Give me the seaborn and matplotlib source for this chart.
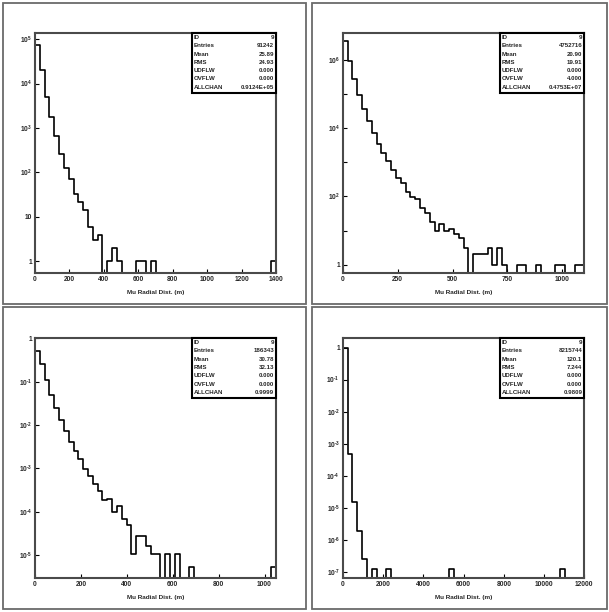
import numpy as np
import pandas as pd
import matplotlib
matplotlib.use("Agg")
import matplotlib.pyplot as plt
import seaborn as sns
from matplotlib.patches import Rectangle
from matplotlib.ticker import FixedLocator, MultipleLocator, FuncFormatter, NullFormatter

# ---------------- data (bin contents, 50 bins each) ----------------
p1_xmax = 1400
p1_counts = [72000, 19800, 5100, 1810, 664, 260, 124, 70, 32, 22,
             14, 6, 3, 4, 0, 1, 2, 1, 0, 0,
             0, 1, 1, 0, 1, 0, 0, 0, 0, 0,
             0, 0, 0, 0, 0, 0, 0, 0, 0, 0,
             0, 0, 0, 0, 0, 0, 0, 0, 0, 1]
p1_stats = ["9", "91242", "25.89", "24.93", "0.000", "0.000", "0.9124E+05"]

p2_xmax = 1100
p2_counts = [3.4e6, 9.1e5, 2.7e5, 9.1e4, 3.5e4, 1.6e4, 7200, 3500, 1900, 1070,
             590, 350, 240, 132, 97, 82, 45, 32, 18, 10,
             16, 10, 11, 8, 6, 3, 0, 2, 2, 2,
             3, 1, 3, 1, 0, 0, 1, 1, 0, 0,
             1, 0, 0, 0, 1, 1, 0, 0, 1, 1]
p2_stats = ["9", "4752716", "20.90", "19.91", "0.000", "4.000", "0.4753E+07"]

p3_xmax = 1050
p3_counts = [0.52, 0.26, 0.11, 0.049, 0.025, 0.013, 0.0072, 0.0040, 0.0025, 0.00165,
             9.8e-4, 6.8e-4, 4.4e-4, 3.0e-4, 1.9e-4, 2.0e-4, 1.0e-4, 1.35e-4, 6.9e-5, 4.8e-5,
             1.07e-5, 2.68e-5, 2.68e-5, 1.61e-5, 1.07e-5, 1.07e-5, 0, 1.07e-5, 0, 1.07e-5,
             0, 0, 5.37e-6, 0, 0, 0, 0, 0, 0, 0,
             0, 0, 0, 0, 0, 0, 0, 0, 0, 5.37e-6]
p3_stats = ["9", "186343", "30.78", "32.13", "0.000", "0.000", "0.9999"]

p4_xmax = 12000
p4_counts = [0.98, 4.8e-4, 1.55e-5, 1.9e-6, 2.43e-7, 0, 1.22e-7, 0, 0, 1.22e-7,
             0, 0, 0, 0, 0, 0, 0, 0, 0, 0,
             0, 0, 1.22e-7, 0, 0, 0, 0, 0, 0, 0,
             0, 0, 0, 0, 0, 0, 0, 0, 0, 0,
             0, 0, 0, 0, 0, 1.22e-7, 0, 0, 0, 0]
p4_stats = ["9", "8215744", "120.1", "7.244", "0.000", "0.000", "0.9809"]

stat_names = ["ID", "Entries", "Mean", "RMS", "UDFLW", "OVFLW", "ALLCHAN"]
xlabel = "Mu Radial Dist. (m)"

# ---------------- style ----------------
sns.set_style("white")
plt.rcParams["font.family"] = ["Liberation Sans", "DejaVu Sans"]
plt.rcParams["font.weight"] = "bold"
plt.rcParams["mathtext.fontset"] = "custom"
plt.rcParams["mathtext.rm"] = "Liberation Sans:bold"

W, H = 609, 612
fig = plt.figure(figsize=(W / 100, H / 100), dpi=100)
fig.patch.set_facecolor("white")


def px_rect(x0, y0, x1, y1):
    return [x0 / W, 1 - y1 / H, (x1 - x0) / W, (y1 - y0) / H]


panels = [
    dict(counts=p1_counts, xmax=p1_xmax, stats=p1_stats, ylim=(0.54, 1.35e5),
         exps=range(0, 6), lab_exps=range(0, 6), xmaj=200, xmin=50,
         rect=px_rect(35, 33.3, 276, 273.3), frame=(3, 3, 305.7, 304.3)),
    dict(counts=p2_counts, xmax=p2_xmax, stats=p2_stats, ylim=(0.56, 5.9e6),
         exps=range(0, 7), lab_exps=[0, 2, 4, 6], xmaj=250, xmin=50,
         rect=px_rect(342.7, 33.3, 584.3, 273.3), frame=(312.3, 3, 607, 304.3)),
    dict(counts=p3_counts, xmax=p3_xmax, stats=p3_stats, ylim=(2.9e-6, 1.0),
         exps=range(-5, 1), lab_exps=range(-5, 1), xmaj=200, xmin=50,
         rect=px_rect(35, 338.3, 276, 578.3), frame=(3, 307.3, 305.7, 609)),
    dict(counts=p4_counts, xmax=p4_xmax, stats=p4_stats, ylim=(6.2e-8, 1.95),
         exps=range(-7, 1), lab_exps=range(-7, 1), xmaj=2000, xmin=500,
         rect=px_rect(342.7, 338.3, 584.3, 578.3), frame=(312.3, 307.3, 607, 609)),
]


def make_fmt(lab_exps):
    lab = set(lab_exps)

    def f(v, pos):
        e = int(round(np.log10(v)))
        if e not in lab:
            return ""
        if e == 0:
            return "1"
        if e == 1:
            return "10"
        if e < 0:
            return r"$\mathregular{10^{\text{-}%d}}$" % (-e)
        return r"$\mathregular{10^{%d}}$" % e
    return f


for p in panels:
    # frame around the panel
    x0, y0, x1, y1 = p["frame"]
    fig.add_artist(Rectangle((x0 / W, 1 - y1 / H), (x1 - x0) / W, (y1 - y0) / H,
                             transform=fig.transFigure, fill=False,
                             edgecolor="#6a6a6a", linewidth=1.3))

    ax = fig.add_axes(p["rect"])
    n = len(p["counts"])
    edges = np.linspace(0, p["xmax"], n + 1)
    centers = 0.5 * (edges[:-1] + edges[1:])
    df = pd.DataFrame({"r": centers, "w": p["counts"]})
    sns.histplot(data=df, x="r", weights="w", bins=edges.tolist(), element="step",
                 fill=False, color="black", linewidth=1.2, ax=ax)
    ax.set_yscale("log")
    ax.set_xlim(0, p["xmax"])
    ax.set_ylim(*p["ylim"])

    ax.yaxis.set_major_locator(FixedLocator([10.0 ** e for e in p["exps"]]))
    ax.yaxis.set_major_formatter(FuncFormatter(make_fmt(p["lab_exps"])))
    minors = [m * 10.0 ** e for e in range(min(p["exps"]) - 1, max(p["exps"]) + 1)
              for m in range(2, 10)]
    ax.yaxis.set_minor_locator(FixedLocator(minors))
    ax.yaxis.set_minor_formatter(NullFormatter())
    ax.xaxis.set_major_locator(MultipleLocator(p["xmaj"]))
    ax.xaxis.set_minor_locator(MultipleLocator(p["xmin"]))

    ax.tick_params(axis="both", which="major", direction="in", length=3.2,
                   width=0.8, labelsize=4.8, pad=2, color="black")
    ax.tick_params(axis="both", which="minor", direction="in", length=1.6,
                   width=0.6, color="black")
    ax.tick_params(left=True, bottom=True, top=False, right=False)
    for lbl in ax.get_xticklabels() + ax.get_yticklabels():
        lbl.set_fontweight("bold")
    for s in ax.spines.values():
        s.set_color("#4a4a4a")
        s.set_linewidth(1.5)
    ax.set_ylabel("")
    ax.set_xlabel(xlabel, fontsize=4.6, fontweight="bold", labelpad=5)

    # statistics box
    bx0, by0 = 0.650, 0.7525
    ax.add_patch(Rectangle((bx0, by0), 1 - bx0, 1 - by0, transform=ax.transAxes,
                           facecolor="white", edgecolor="black", linewidth=1.5,
                           zorder=5, clip_on=False))
    for i, (nm, val) in enumerate(zip(stat_names, p["stats"])):
        yy = 1 - (4.2 + 8.3 * i) / 240
        ax.text(bx0 + 0.008, yy, nm, transform=ax.transAxes, fontsize=4.4,
                fontweight="bold", ha="left", va="center", zorder=6)
        ax.text(0.992, yy, val, transform=ax.transAxes, fontsize=4.4,
                fontweight="bold", ha="right", va="center", zorder=6)

fig.savefig("out.png", dpi=100)
